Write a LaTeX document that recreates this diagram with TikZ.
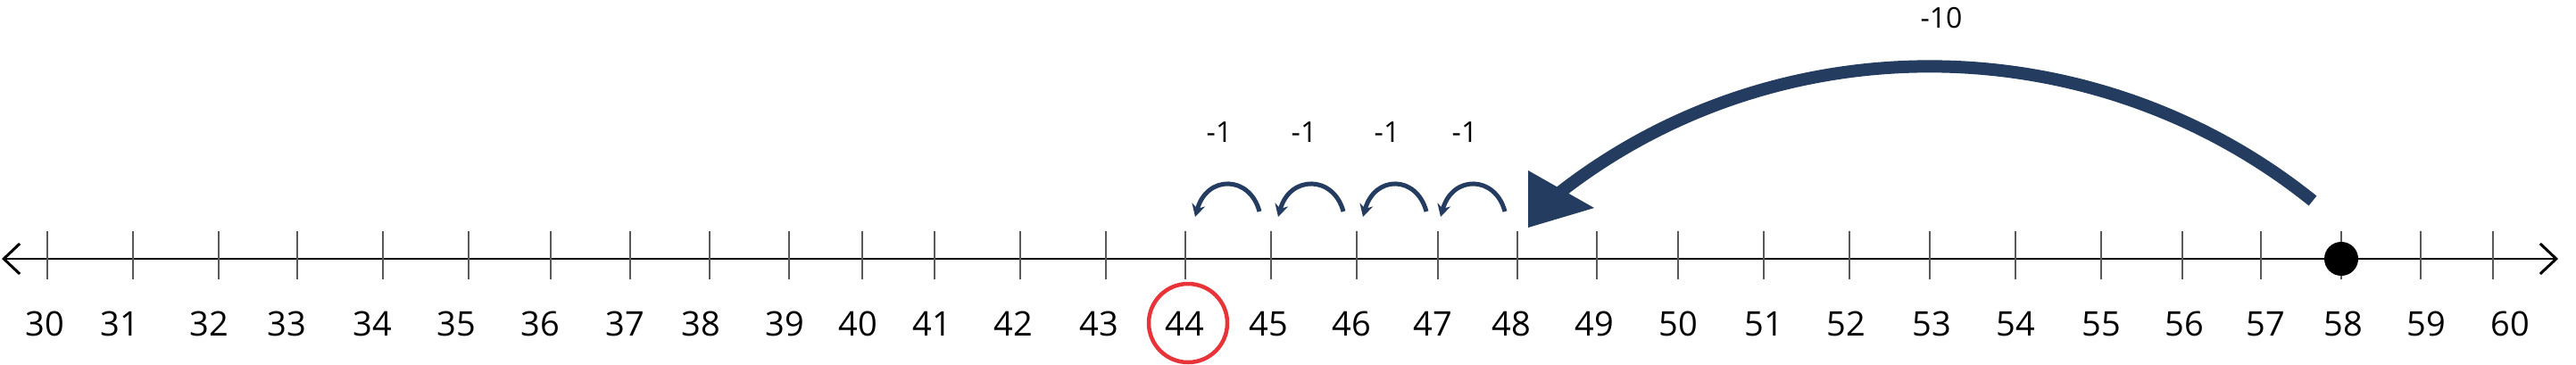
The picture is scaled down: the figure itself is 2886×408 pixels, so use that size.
\documentclass[tikz,border=0pt]{standalone}
\usepackage{fontspec}
\setmainfont{Open Sans}
\usetikzlibrary{arrows.meta}
\definecolor{navy}{RGB}{35,60,95}
\definecolor{circred}{RGB}{232,51,56}
\begin{document}
\begin{tikzpicture}[x=1pt,y=-1pt,
  numlabel/.style={font=\fontsize{38}{40}\selectfont, inner sep=0pt},
  jumplabel/.style={font=\fontsize{32}{34}\selectfont, inner sep=0pt},
  tickline/.style={draw=black!65, line width=1.5pt},
  axisline/.style={draw=black, line width=2pt, {Straight Barb[length=18pt,width=34pt,line width=3pt]}-{Straight Barb[length=18pt,width=34pt,line width=3pt]}},
  hop/.style={draw=navy, line width=5pt, -{Stealth[length=14pt,width=15pt]}},
  bighop/.style={draw=navy, line width=14pt},
]
\useasboundingbox (0,0) rectangle (2886,408);
\fill[white] (0,0) rectangle (2886,408);

% axis
\coordinate (axL) at (2,290);
\coordinate (axR) at (2866,290);
\draw[axisline] (axL) -- (axR);

% ticks and labels
\foreach \n/\t/\l in {30/53/50, 31/149/134, 32/245/234, 33/333/321, 34/429/417, 35/525/511,
  36/617/605, 37/706/700, 38/795/785, 39/884/879, 40/966/961, 41/1047/1044, 42/1143/1135,
  43/1239/1231, 44/1328/1327, 45/1424/1421, 46/1520/1514, 47/1611/1605, 48/1700/1693,
  49/1789/1786, 50/1880/1880, 51/1976/1976, 52/2072/2068, 53/2162/2164, 54/2258/2258,
  55/2354/2354, 56/2445/2447, 57/2533/2538, 58/2623/2625, 59/2712/2718, 60/2793/2812}{
  \draw[tickline] (\t,259) -- (\t,313);
  \node[numlabel] (l\n) at (\l,363) {\n};
}

% answer ring
\node[circle, draw=circred, line width=4.5pt, minimum size=88pt, inner sep=0pt] (ring) at (1331,362) {};

% start dot
\node[circle, fill=black, minimum size=38pt, inner sep=0pt] (dot) at (2623,290) {};

% big jump -10
\coordinate (bs) at (2591,225);
\coordinate (be) at (1742,220);
\draw[bighop] (bs) .. controls (2345,27) and (1989,23) .. (be);
\fill[navy] (1712,191) -- (1786,233) -- (1712,255) -- cycle;
\node[jumplabel] (ten) at (2175,20) {-10};

% small jumps -1
\coordinate (h1s) at (1411,237); \coordinate (h1e) at (1339,243);
\coordinate (h2s) at (1505,237); \coordinate (h2e) at (1432,243);
\coordinate (h3s) at (1598,237); \coordinate (h3e) at (1527,243);
\coordinate (h4s) at (1686,237); \coordinate (h4e) at (1614,243);
\draw[hop] (h1s) .. controls (1400,196) and (1352,196) .. (h1e);
\draw[hop] (h2s) .. controls (1494,196) and (1445,196) .. (h2e);
\draw[hop] (h3s) .. controls (1587,196) and (1540,196) .. (h3e);
\draw[hop] (h4s) .. controls (1675,196) and (1627,196) .. (h4e);
\node[jumplabel] (j1) at (1366,148) {-1};
\node[jumplabel] (j2) at (1461,148) {-1};
\node[jumplabel] (j3) at (1554,148) {-1};
\node[jumplabel] (j4) at (1641,148) {-1};
\end{tikzpicture}
\end{document}
